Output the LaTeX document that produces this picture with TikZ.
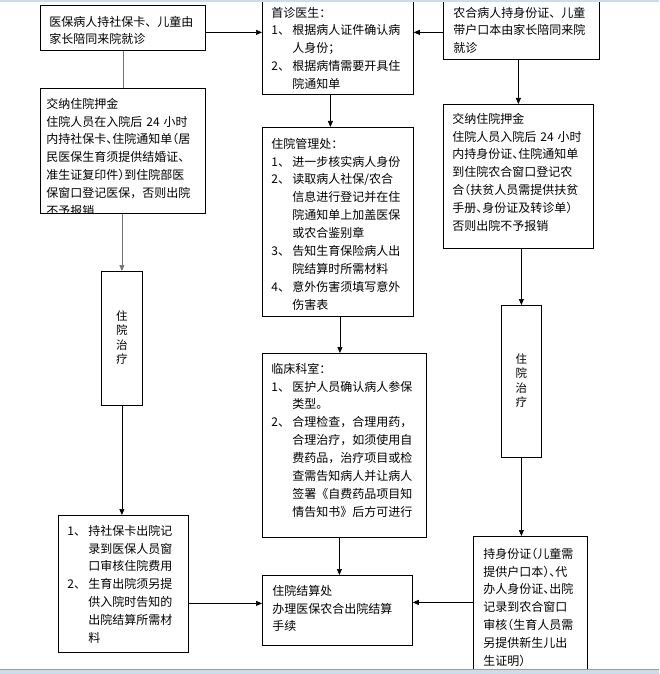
\documentclass[tikz,border=0pt]{standalone}
\usepackage{fontspec}
\newfontfamily\cn{Noto Sans CJK SC}
\newfontfamily\cnh[RawFeature=+halt]{Noto Sans CJK SC}
\usetikzlibrary{arrows.meta}
\definecolor{barblue}{RGB}{206,219,234}
\definecolor{barline}{RGB}{140,160,182}
\tikzstyle{panel}=[draw, line width=0.8pt, anchor=north west, inner ysep=0pt, inner xsep=9pt, align=left, font=\cn\fontsize{12}{17.9}\selectfont]
\tikzstyle{slab}=[draw, line width=0.8pt, anchor=north west, inner sep=0pt, font=\cn\fontsize{11.5}{14.6}\selectfont]
\tikzstyle{link}=[draw, line width=0.7pt, ->]
\tikzstyle{greylink}=[draw, line width=0.7pt, black!55]
\newcommand{\itemno}[1]{\makebox[21pt][l]{#1}}
\newcommand{\cont}{\hspace*{21pt}}
\newcommand{\hp}[1]{{\cnh #1}}
\newcommand{\vchar}[1]{\hbox to 12pt{\hss\rule[-3.8pt]{0pt}{14.6pt}\smash{#1}\hss}}

\begin{document}
\begin{tikzpicture}[x=1pt, y=-1pt, >={Triangle[length=6pt,width=5pt]}]
    \useasboundingbox (0,0) rectangle (659,674);

    % top row
    \node[panel, text width=147pt, text height=20.7pt, text depth=24.3pt] (pa) at (40,5)
        {医保病人持社保卡、儿童由\\家长陪同来院就诊};
    \node[panel, text width=133pt, text height=16.7pt, text depth=77.3pt] (ps1) at (262,0)
        {首诊医生：\\
         \itemno{1、}根据病人证件确认病\\
         \cont 人身份；\\
         \itemno{2、}根据病情需要开具住\\
         \cont 院通知单};
    \node[panel, inner xsep=10pt, text width=136pt, text height=16.7pt, text depth=42.3pt] (pr1) at (443,0)
        {农合病人持身份证、儿童\\带户口本由家长陪同来院\\就诊};

    % left column
    \begin{scope}
        \clip (39,87) rectangle (206,213.5);
        \node[panel, inner xsep=6pt, text width=153pt, text height=19.7pt, text depth=105.3pt] (pb) at (40,88)
            {交纳住院押金\\
             住院人员在入院后 24 小时\\
             内持社保卡\hp{、}住院通知单\hp{（}居\\
             民医保生育须提供结婚证、\\
             准生证复印件\hp{）}到住院部医\\
             保窗口登记医保，否则出院\\
             不予报销};
    \end{scope}
    \node[slab, minimum width=41pt, minimum height=134pt] (ptl) at (101,271)
        {\vbox{\offinterlineskip\vchar{住}\vchar{院}\vchar{治}\vchar{疗}}};
    \node[panel, text width=112pt, text height=19.7pt, text depth=117.3pt] (pd) at (58,515)
        {\itemno{1、}持社保卡出院记\\
         \cont 录到医保人员窗\\
         \cont 口审核住院费用\\
         \itemno{2、}生育出院须另提\\
         \cont 供入院时告知的\\
         \cont 出院结算所需材\\
         \cont 料};

    % middle column
    \node[panel, text width=133pt, text height=20.7pt, text depth=168.3pt] (ps2) at (262,127)
        {住院管理处：\\
         \itemno{1、}进一步核实病人身份\\
         \itemno{2、}读取病人社保/农合\\
         \cont 信息进行登记并在住\\
         \cont 院通知单上加盖医保\\
         \cont 或农合鉴别章\\
         \itemno{3、}告知生育保险病人出\\
         \cont 院结算时所需材料\\
         \itemno{4、}意外伤害须填写意外\\
         \cont 伤害表};
    \node[panel, text width=146pt, text height=19.7pt, text depth=164.3pt] (ps3) at (262,353)
        {临床科室：\\
         \itemno{1、}医护人员确认病人参保\\
         \cont 类型。\\
         \itemno{2、}合理检查，合理用药，\\
         \cont 合理治疗，如须使用自\\
         \cont 费药品，治疗项目或检\\
         \cont 查需告知病人并让病人\\
         \cont 签署《自费药品项目知\\
         \cont 情告知书》后方可进行};
    \node[panel, inner xsep=10pt, text width=130pt, text height=19.7pt, text depth=50.3pt] (ps4) at (262,575)
        {住院结算处\\办理医保农合出院结算\\手续};

    % right column
    \node[panel, text width=132pt, text height=18.7pt, text depth=125.3pt] (pe) at (443,104)
        {交纳住院押金\\
         住院人员入院后 24 小时\\
         内持身份证\hp{、}住院通知单\\
         到住院农合窗口登记农\\
         合\hp{（}扶贫人员需提供扶贫\\
         手册\hp{、}身份证及转诊单\hp{）}\\
         否则出院不予报销};
    \node[slab, minimum width=40pt, minimum height=152pt] (ptr) at (501,305)
        {\vbox{\offinterlineskip\vchar{住}\vchar{院}\vchar{治}\vchar{疗}}};
    \node[panel, inner xsep=10pt, text width=94pt, text height=21.7pt, text depth=114.3pt] (pf) at (473,536)
        {持身份证\hp{（}儿童需\\
         提供户口本\hp{）}\hp{、}代\\
         办人身份证\hp{、}出院\\
         记录到农合窗口\\
         审核\hp{（}生育人员需\\
         另提供新生儿出\\
         生证明）};

    % connectors
    \draw[link] ([yshift=-4.5pt]pa.east) -- ([yshift=-4.5pt]pa.east -| ps1.west);
    \draw[link] ([yshift=-2.5pt]pr1.west) -- ([yshift=-2.5pt]pr1.west -| ps1.east);
    \draw[greylink] (pa.south) -- (pb.north);
    \draw[greylink, ->] (pb.south -| ptl.north) -- (ptl.north);
    \draw[link] (ptl.south) -- (ptl.south |- pd.north);
    \draw[link] ([yshift=-19.5pt]pd.east) -- ([yshift=-19.5pt]pd.east -| ps4.west);
    \draw[link] ([xshift=-7.5pt]ps1.south) -- ([xshift=-7.5pt]ps1.south |- ps2.north);
    \draw[link] ([xshift=2pt]ps2.south) -- ([xshift=2pt]ps2.south |- ps3.north);
    \draw[link] ([xshift=-5pt]ps3.south) -- ([xshift=-5pt]ps3.south |- ps4.north);
    \draw[link] (pr1.south -| pe.north) -- (pe.north);
    \draw[link] (pe.south -| ptr.north) -- (ptr.north);
    \draw[link] (ptr.south) -- (ptr.south |- pf.north);
    \draw[link] ([yshift=2pt]pf.west) -- ([yshift=2pt]pf.west -| ps4.east);

    % window edges
    \fill[barblue] (0,0) rectangle (659,2);
    \fill[barblue] (0,669) rectangle (659,674);
    \draw[barline, line width=0.8pt] (0,669) -- (659,669);
\end{tikzpicture}
\end{document}
